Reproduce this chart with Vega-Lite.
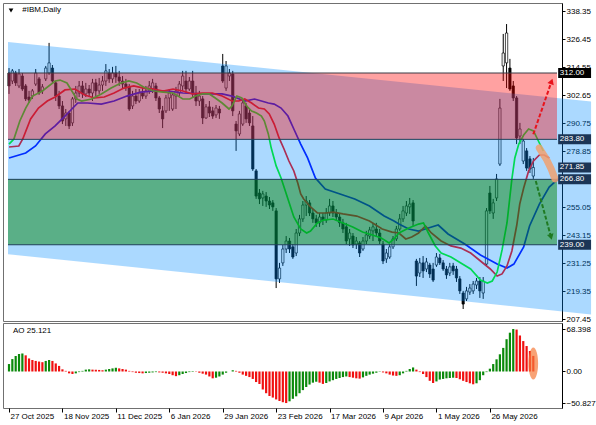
{
"$schema": "https://vega.github.io/schema/vega-lite/v6.json",
"background": "white",
"padding": {"left": 2, "top": 2, "right": 0, "bottom": 0},
"spacing": 2,
"bounds": "flush",
"config": {"view": {"stroke": "#707070", "strokeWidth": 1}, "font": "Liberation Sans", "axis": {"labelFont": "Liberation Sans", "labelFontSize": 8, "labelColor": "#000", "tickColor": "#000", "grid": false, "labelOverlap": false, "labelSeparation": 0, "labelBound": false}},
"datasets": {
"bars": [
{"i":0,"o":312.0,"h":314.1,"l":303.1,"c":306.5,"ao":12,"u":1},
{"i":1,"o":308.6,"h":313.7,"l":307.3,"c":312.9,"ao":20,"u":1},
{"i":2,"o":312.0,"h":312.9,"l":306.5,"c":307.8,"ao":25,"u":1},
{"i":3,"o":306.5,"h":313.7,"l":305.6,"c":311.6,"ao":28,"u":1},
{"i":4,"o":310.7,"h":312.0,"l":304.4,"c":305.2,"ao":29,"u":1},
{"i":5,"o":306.5,"h":307.3,"l":300.1,"c":301.0,"ao":26,"u":0},
{"i":6,"o":301.8,"h":304.4,"l":299.3,"c":300.5,"ao":21,"u":0},
{"i":7,"o":302.2,"h":305.2,"l":301.0,"c":304.4,"ao":18.5,"u":0},
{"i":8,"o":307.3,"h":313.7,"l":306.5,"c":312.0,"ao":17,"u":0},
{"i":9,"o":309.5,"h":310.3,"l":302.7,"c":303.5,"ao":16,"u":0},
{"i":10,"o":304.4,"h":307.3,"l":303.1,"c":306.1,"ao":15,"u":0},
{"i":11,"o":309.5,"h":315.0,"l":308.6,"c":314.1,"ao":17,"u":1},
{"i":12,"o":312.0,"h":324.8,"l":311.2,"c":316.3,"ao":18.5,"u":1},
{"i":13,"o":314.1,"h":315.4,"l":307.8,"c":308.6,"ao":17,"u":0},
{"i":14,"o":307.8,"h":308.6,"l":300.1,"c":302.2,"ao":13,"u":0},
{"i":15,"o":302.2,"h":304.4,"l":296.7,"c":298.0,"ao":9,"u":0},
{"i":16,"o":298.0,"h":300.1,"l":290.3,"c":291.6,"ao":3.5,"u":0},
{"i":17,"o":292.5,"h":296.7,"l":289.5,"c":295.0,"ao":1,"u":0},
{"i":18,"o":295.0,"h":295.9,"l":288.2,"c":289.5,"ao":-3,"u":0},
{"i":19,"o":290.8,"h":301.8,"l":289.5,"c":301.0,"ao":-4,"u":0},
{"i":20,"o":301.0,"h":306.5,"l":299.3,"c":303.5,"ao":-3,"u":1},
{"i":21,"o":303.5,"h":308.6,"l":301.8,"c":306.5,"ao":-1,"u":1},
{"i":22,"o":306.5,"h":308.6,"l":301.4,"c":303.1,"ao":1,"u":1},
{"i":23,"o":303.1,"h":307.8,"l":301.8,"c":305.2,"ao":3,"u":1},
{"i":24,"o":305.2,"h":306.9,"l":302.2,"c":303.5,"ao":3.5,"u":1},
{"i":25,"o":303.5,"h":309.5,"l":300.1,"c":307.8,"ao":3,"u":0},
{"i":26,"o":307.8,"h":309.5,"l":302.2,"c":304.4,"ao":2.8,"u":0},
{"i":27,"o":304.4,"h":309.9,"l":303.1,"c":306.9,"ao":2.5,"u":0},
{"i":28,"o":306.9,"h":310.7,"l":304.4,"c":308.6,"ao":2,"u":0},
{"i":29,"o":308.6,"h":315.8,"l":306.5,"c":312.9,"ao":3,"u":1},
{"i":30,"o":312.0,"h":313.7,"l":307.8,"c":309.5,"ao":4,"u":1},
{"i":31,"o":309.5,"h":314.6,"l":307.8,"c":312.0,"ao":5,"u":1},
{"i":32,"o":312.0,"h":315.0,"l":307.8,"c":310.3,"ao":6,"u":1},
{"i":33,"o":310.3,"h":312.9,"l":306.5,"c":308.6,"ao":5,"u":0},
{"i":34,"o":308.6,"h":310.7,"l":305.6,"c":307.3,"ao":4,"u":0},
{"i":35,"o":307.3,"h":309.5,"l":304.4,"c":306.1,"ao":3,"u":0},
{"i":36,"o":306.1,"h":307.3,"l":295.9,"c":296.7,"ao":1,"u":0},
{"i":37,"o":298.0,"h":304.4,"l":296.7,"c":302.2,"ao":-1,"u":0},
{"i":38,"o":302.2,"h":305.2,"l":298.8,"c":300.1,"ao":-2,"u":0},
{"i":39,"o":300.1,"h":305.2,"l":299.3,"c":303.5,"ao":-2.5,"u":0},
{"i":40,"o":303.5,"h":305.6,"l":301.0,"c":302.2,"ao":-3,"u":0},
{"i":41,"o":302.2,"h":306.5,"l":301.0,"c":304.4,"ao":-2.5,"u":1},
{"i":42,"o":304.4,"h":308.6,"l":303.1,"c":306.5,"ao":-2,"u":1},
{"i":43,"o":305.2,"h":309.5,"l":303.5,"c":307.8,"ao":-1.5,"u":1},
{"i":44,"o":306.5,"h":307.8,"l":300.1,"c":301.4,"ao":-1,"u":1},
{"i":45,"o":301.4,"h":302.2,"l":295.0,"c":296.7,"ao":-1.5,"u":0},
{"i":46,"o":295.9,"h":298.0,"l":288.6,"c":292.5,"ao":-2,"u":0},
{"i":47,"o":295.9,"h":302.7,"l":295.0,"c":301.4,"ao":-3,"u":0},
{"i":48,"o":301.4,"h":305.2,"l":295.9,"c":303.5,"ao":-4,"u":0},
{"i":49,"o":296.7,"h":303.5,"l":295.9,"c":302.7,"ao":-6,"u":0},
{"i":50,"o":302.2,"h":306.1,"l":296.7,"c":304.4,"ao":-7.5,"u":0},
{"i":51,"o":303.5,"h":308.6,"l":302.2,"c":307.3,"ao":-6,"u":1},
{"i":52,"o":306.5,"h":312.9,"l":304.4,"c":310.7,"ao":-4,"u":1},
{"i":53,"o":308.6,"h":312.9,"l":303.5,"c":305.2,"ao":-2.5,"u":1},
{"i":54,"o":305.2,"h":310.3,"l":304.4,"c":308.6,"ao":-1,"u":1},
{"i":55,"o":308.6,"h":312.9,"l":301.4,"c":303.1,"ao":0.8,"u":1},
{"i":56,"o":303.1,"h":306.5,"l":298.0,"c":300.1,"ao":-0.5,"u":0},
{"i":57,"o":300.1,"h":304.4,"l":298.0,"c":302.2,"ao":-2,"u":0},
{"i":58,"o":301.0,"h":302.2,"l":290.3,"c":292.9,"ao":-3.5,"u":0},
{"i":59,"o":292.9,"h":298.8,"l":292.5,"c":297.6,"ao":-5,"u":0},
{"i":60,"o":297.6,"h":300.1,"l":293.3,"c":295.0,"ao":-8,"u":0},
{"i":61,"o":295.9,"h":297.6,"l":292.5,"c":293.7,"ao":-11,"u":0},
{"i":62,"o":294.2,"h":298.4,"l":292.9,"c":297.1,"ao":-10,"u":1},
{"i":63,"o":296.7,"h":298.0,"l":292.5,"c":295.0,"ao":-8,"u":1},
{"i":64,"o":315.0,"h":320.1,"l":307.8,"c":308.6,"ao":-5,"u":1},
{"i":65,"o":305.6,"h":317.1,"l":304.4,"c":315.0,"ao":-2,"u":1},
{"i":66,"o":310.7,"h":313.7,"l":308.6,"c":312.0,"ao":0,"u":1},
{"i":67,"o":311.6,"h":312.9,"l":293.7,"c":295.9,"ao":2,"u":1},
{"i":68,"o":290.3,"h":291.6,"l":278.9,"c":287.4,"ao":1,"u":0},
{"i":69,"o":286.1,"h":295.9,"l":285.2,"c":294.6,"ao":-2,"u":0},
{"i":70,"o":290.3,"h":300.1,"l":289.5,"c":299.3,"ao":-5,"u":0},
{"i":71,"o":298.0,"h":299.3,"l":290.8,"c":292.5,"ao":-7,"u":0},
{"i":72,"o":295.0,"h":296.7,"l":289.5,"c":290.8,"ao":-9,"u":0},
{"i":73,"o":289.5,"h":293.7,"l":270.4,"c":271.2,"ao":-12,"u":0},
{"i":74,"o":270.4,"h":271.2,"l":258.5,"c":259.7,"ao":-17,"u":0},
{"i":75,"o":261.0,"h":262.7,"l":256.3,"c":258.5,"ao":-20,"u":0},
{"i":76,"o":258.9,"h":261.9,"l":255.5,"c":260.6,"ao":-29,"u":0},
{"i":77,"o":259.7,"h":261.4,"l":255.1,"c":257.6,"ao":-35,"u":0},
{"i":78,"o":257.6,"h":259.3,"l":254.2,"c":255.9,"ao":-39.5,"u":0},
{"i":79,"o":256.8,"h":258.0,"l":253.4,"c":255.1,"ao":-42,"u":0},
{"i":80,"o":253.4,"h":254.6,"l":220.6,"c":224.5,"ao":-45,"u":0},
{"i":81,"o":224.5,"h":231.3,"l":222.8,"c":229.1,"ao":-47.5,"u":0},
{"i":82,"o":231.3,"h":238.9,"l":230.0,"c":237.2,"ao":-49.5,"u":0},
{"i":83,"o":237.2,"h":242.7,"l":235.5,"c":240.6,"ao":-50.827,"u":0},
{"i":84,"o":240.6,"h":241.9,"l":235.5,"c":237.2,"ao":-48,"u":1},
{"i":85,"o":238.1,"h":239.3,"l":233.0,"c":233.8,"ao":-44,"u":1},
{"i":86,"o":235.5,"h":245.7,"l":234.2,"c":244.0,"ao":-40,"u":1},
{"i":87,"o":244.0,"h":251.7,"l":242.7,"c":250.0,"ao":-35,"u":1},
{"i":88,"o":250.0,"h":257.6,"l":248.7,"c":255.9,"ao":-30,"u":1},
{"i":89,"o":255.9,"h":259.7,"l":251.2,"c":257.6,"ao":-25,"u":1},
{"i":90,"o":256.8,"h":258.0,"l":251.2,"c":252.5,"ao":-21,"u":1},
{"i":91,"o":252.5,"h":254.2,"l":248.3,"c":250.0,"ao":-18,"u":1},
{"i":92,"o":250.0,"h":251.7,"l":246.6,"c":248.3,"ao":-16.5,"u":1},
{"i":93,"o":248.3,"h":252.5,"l":246.6,"c":250.8,"ao":-18,"u":0},
{"i":94,"o":250.8,"h":252.5,"l":247.4,"c":249.5,"ao":-20,"u":0},
{"i":95,"o":249.5,"h":254.6,"l":248.3,"c":252.5,"ao":-18.5,"u":1},
{"i":96,"o":252.5,"h":258.5,"l":251.2,"c":255.5,"ao":-16,"u":1},
{"i":97,"o":255.5,"h":257.6,"l":250.8,"c":252.5,"ao":-14,"u":1},
{"i":98,"o":252.5,"h":254.2,"l":249.1,"c":250.8,"ao":-12,"u":1},
{"i":99,"o":250.8,"h":252.5,"l":246.6,"c":248.3,"ao":-10.5,"u":1},
{"i":100,"o":248.3,"h":250.0,"l":244.0,"c":245.7,"ao":-9,"u":1},
{"i":101,"o":246.6,"h":248.3,"l":239.3,"c":240.6,"ao":-8,"u":1},
{"i":102,"o":241.5,"h":245.7,"l":238.5,"c":244.0,"ao":-9,"u":0},
{"i":103,"o":242.7,"h":244.0,"l":237.6,"c":238.9,"ao":-10,"u":0},
{"i":104,"o":239.3,"h":242.3,"l":237.2,"c":240.6,"ao":-11,"u":0},
{"i":105,"o":239.8,"h":240.6,"l":233.8,"c":235.5,"ao":-11.5,"u":0},
{"i":106,"o":237.2,"h":242.3,"l":236.4,"c":240.6,"ao":-9.5,"u":1},
{"i":107,"o":240.6,"h":244.9,"l":239.3,"c":243.2,"ao":-7,"u":1},
{"i":108,"o":242.7,"h":246.6,"l":241.5,"c":245.3,"ao":-5,"u":1},
{"i":109,"o":244.9,"h":248.3,"l":240.6,"c":246.6,"ao":-3.5,"u":1},
{"i":110,"o":245.7,"h":248.3,"l":242.3,"c":244.0,"ao":-2,"u":1},
{"i":111,"o":244.0,"h":245.7,"l":239.3,"c":240.6,"ao":-0.5,"u":1},
{"i":112,"o":239.3,"h":240.6,"l":230.8,"c":232.1,"ao":-1.5,"u":0},
{"i":113,"o":233.0,"h":237.2,"l":231.3,"c":235.5,"ao":-3,"u":0},
{"i":114,"o":233.8,"h":239.3,"l":233.0,"c":238.1,"ao":-5,"u":0},
{"i":115,"o":238.1,"h":242.7,"l":237.2,"c":241.5,"ao":-6.5,"u":0},
{"i":116,"o":241.5,"h":247.0,"l":240.6,"c":245.7,"ao":-7,"u":0},
{"i":117,"o":245.7,"h":252.1,"l":244.9,"c":250.0,"ao":-6,"u":1},
{"i":118,"o":250.0,"h":255.5,"l":248.7,"c":253.4,"ao":-3,"u":1},
{"i":119,"o":252.5,"h":257.6,"l":251.2,"c":255.5,"ao":1,"u":1},
{"i":120,"o":255.1,"h":258.9,"l":252.1,"c":256.3,"ao":4,"u":1},
{"i":121,"o":256.8,"h":258.0,"l":247.0,"c":249.1,"ao":6.5,"u":1},
{"i":122,"o":232.1,"h":233.0,"l":221.5,"c":225.7,"ao":3,"u":0},
{"i":123,"o":227.0,"h":233.4,"l":225.3,"c":231.3,"ao":-1,"u":0},
{"i":124,"o":231.3,"h":234.2,"l":224.9,"c":227.9,"ao":-4,"u":0},
{"i":125,"o":228.7,"h":233.4,"l":227.4,"c":231.7,"ao":-9,"u":0},
{"i":126,"o":230.4,"h":231.3,"l":224.9,"c":226.6,"ao":-15,"u":0},
{"i":127,"o":228.7,"h":231.3,"l":223.2,"c":224.0,"ao":-18.5,"u":0},
{"i":128,"o":230.4,"h":235.5,"l":229.6,"c":233.8,"ao":-16,"u":1},
{"i":129,"o":233.4,"h":235.1,"l":230.4,"c":231.3,"ao":-13,"u":1},
{"i":130,"o":231.3,"h":232.5,"l":227.9,"c":228.7,"ao":-12,"u":1},
{"i":131,"o":228.7,"h":230.0,"l":224.5,"c":226.2,"ao":-11,"u":1},
{"i":132,"o":227.0,"h":231.3,"l":225.7,"c":229.6,"ao":-10.5,"u":1},
{"i":133,"o":230.0,"h":231.3,"l":226.2,"c":227.9,"ao":-10,"u":1},
{"i":134,"o":228.7,"h":230.0,"l":223.2,"c":224.9,"ao":-10.5,"u":0},
{"i":135,"o":224.5,"h":225.7,"l":218.1,"c":219.4,"ao":-12.5,"u":0},
{"i":136,"o":218.5,"h":219.4,"l":211.7,"c":213.8,"ao":-15,"u":0},
{"i":137,"o":216.0,"h":221.1,"l":215.1,"c":219.4,"ao":-17,"u":0},
{"i":138,"o":218.9,"h":222.3,"l":217.7,"c":220.6,"ao":-19,"u":0},
{"i":139,"o":219.4,"h":223.6,"l":218.1,"c":222.3,"ao":-20.6,"u":0},
{"i":140,"o":221.9,"h":224.9,"l":220.2,"c":223.6,"ao":-19,"u":1},
{"i":141,"o":223.6,"h":225.3,"l":216.4,"c":219.4,"ao":-14,"u":1},
{"i":142,"o":218.5,"h":225.3,"l":216.0,"c":223.6,"ao":-6,"u":1},
{"i":143,"o":230.8,"h":254.6,"l":230.0,"c":253.4,"ao":-1,"u":1},
{"i":144,"o":261.0,"h":264.0,"l":252.1,"c":253.4,"ao":4.5,"u":1},
{"i":145,"o":252.5,"h":258.5,"l":250.0,"c":256.8,"ao":12,"u":1},
{"i":146,"o":258.9,"h":269.1,"l":257.6,"c":267.0,"ao":19.6,"u":1},
{"i":147,"o":273.3,"h":301.0,"l":272.5,"c":297.1,"ao":27.7,"u":1},
{"i":148,"o":315.0,"h":328.6,"l":308.6,"c":320.5,"ao":38,"u":1},
{"i":149,"o":316.3,"h":332.8,"l":305.6,"c":329.0,"ao":52,"u":1},
{"i":150,"o":314.1,"h":318.0,"l":304.4,"c":305.2,"ao":62.5,"u":1},
{"i":151,"o":306.5,"h":308.6,"l":300.1,"c":301.4,"ao":68.398,"u":1},
{"i":152,"o":301.4,"h":302.2,"l":281.8,"c":284.4,"ao":67.5,"u":0},
{"i":153,"o":285.2,"h":290.8,"l":281.8,"c":288.2,"ao":58,"u":0},
{"i":154,"o":274.6,"h":284.0,"l":273.3,"c":283.1,"ao":49,"u":0},
{"i":155,"o":278.9,"h":280.1,"l":270.4,"c":271.6,"ao":41,"u":0},
{"i":156,"o":275.5,"h":276.7,"l":269.5,"c":271.2,"ao":33,"u":0},
{"i":157,"o":268.2,"h":275.9,"l":267.0,"c":271.85,"ao":25.121,"u":0}
],
"jaw": [
{"i":0,"v":275.9},{"i":5.0,"v":278.0},{"i":7.94,"v":281.0},{"i":10.88,"v":286.1},{"i":13.82,"v":289.5},{"i":16.76,"v":293.7},{"i":18.82,"v":296.7},{"i":20.59,"v":299.25},{"i":23.53,"v":299.25},{"i":27.65,"v":298.8},{"i":31.47,"v":300.1},{"i":35.29,"v":302.2},{"i":39.41,"v":303.9},{"i":43.24,"v":304.35},{"i":47.65,"v":304.35},{"i":52.06,"v":303.5},{"i":57.94,"v":303.1},{"i":63.82,"v":303.1},{"i":66.76,"v":302.2},{"i":70.59,"v":300.1},{"i":73.53,"v":300.95},{"i":75.59,"v":300.1},{"i":77.65,"v":299.25},{"i":79.41,"v":298.8},{"i":81.47,"v":297.1},{"i":83.53,"v":293.7},{"i":85.29,"v":288.2},{"i":87.35,"v":281.8},{"i":89.41,"v":275.9},{"i":91.76,"v":267.4},{"i":94.71,"v":262.7},{"i":99.12,"v":260.6},{"i":103.53,"v":258.45},{"i":107.94,"v":255.5},{"i":112.35,"v":251.2},{"i":115.29,"v":249.1},{"i":116.76,"v":247.8},{"i":119.71,"v":245.7},{"i":122.65,"v":244.85},{"i":125.59,"v":246.1},{"i":128.53,"v":247.4},{"i":131.47,"v":243.6},{"i":136.47,"v":239.3},{"i":141.18,"v":234.65},{"i":146.18,"v":230.8},{"i":149.12,"v":229.1},{"i":151.18,"v":230.8},{"i":154.12,"v":238.05},{"i":155.88,"v":247.0},{"i":158.82,"v":256.3},{"i":161.76,"v":263.55},{"i":164.41,"v":266.95}
],
"teeth": [
{"i":0,"v":280.55},{"i":2.94,"v":280.98},{"i":4.12,"v":283.95},{"i":6.47,"v":292.45},{"i":8.82,"v":297.1},{"i":11.47,"v":300.1},{"i":13.82,"v":301.8},{"i":16.76,"v":304.8},{"i":19.71,"v":305.2},{"i":22.65,"v":302.65},{"i":25.59,"v":301.4},{"i":28.53,"v":301.8},{"i":31.47,"v":303.5},{"i":34.41,"v":305.6},{"i":37.35,"v":306.5},{"i":40.29,"v":305.6},{"i":43.24,"v":305.2},{"i":46.18,"v":304.35},{"i":49.12,"v":305.2},{"i":52.06,"v":304.35},{"i":55.0,"v":303.1},{"i":57.94,"v":303.5},{"i":60.88,"v":303.5},{"i":63.82,"v":302.2},{"i":66.76,"v":300.1},{"i":68.82,"v":300.1},{"i":70.59,"v":300.95},{"i":72.65,"v":299.25},{"i":74.71,"v":297.1},{"i":76.47,"v":296.7},{"i":77.94,"v":294.6},{"i":79.41,"v":290.3},{"i":80.88,"v":284.4},{"i":82.35,"v":279.7},{"i":83.82,"v":274.6},{"i":85.29,"v":270.35},{"i":86.47,"v":265.25},{"i":87.35,"v":260.6},{"i":88.24,"v":258.45},{"i":90.29,"v":255.05},{"i":92.35,"v":252.5},{"i":94.71,"v":252.5},{"i":97.06,"v":252.9},{"i":100.0,"v":252.1},{"i":104.12,"v":251.2},{"i":107.94,"v":249.1},{"i":111.76,"v":245.7},{"i":114.71,"v":244.4},{"i":116.76,"v":244.0},{"i":118.82,"v":241.45},{"i":120.59,"v":242.3},{"i":122.65,"v":244.0},{"i":124.71,"v":247.0},{"i":126.47,"v":244.0},{"i":129.41,"v":240.6},{"i":132.35,"v":238.5},{"i":135.29,"v":237.6},{"i":138.24,"v":235.5},{"i":141.18,"v":232.1},{"i":144.12,"v":228.7},{"i":146.18,"v":225.7},{"i":147.65,"v":226.6},{"i":149.12,"v":230.0},{"i":150.59,"v":236.35},{"i":152.06,"v":247.4},{"i":152.94,"v":256.3},{"i":154.12,"v":263.1},{"i":155.59,"v":270.35},{"i":157.06,"v":274.6},{"i":158.82,"v":277.15},{"i":160.29,"v":277.15},{"i":161.76,"v":275.9}
],
"lips": [
{"i":0,"v":281.8},{"i":1.47,"v":283.95},{"i":3.24,"v":291.6},{"i":5.0,"v":297.1},{"i":7.06,"v":302.2},{"i":10.0,"v":304.35},{"i":13.82,"v":308.6},{"i":15.29,"v":309.0},{"i":17.35,"v":307.75},{"i":18.82,"v":304.35},{"i":20.29,"v":300.95},{"i":21.76,"v":300.1},{"i":24.71,"v":300.95},{"i":27.65,"v":303.1},{"i":30.59,"v":305.6},{"i":33.53,"v":307.75},{"i":35.88,"v":308.6},{"i":38.24,"v":307.75},{"i":40.29,"v":306.05},{"i":43.24,"v":304.35},{"i":46.18,"v":303.9},{"i":49.12,"v":303.5},{"i":52.06,"v":300.95},{"i":54.12,"v":300.95},{"i":55.88,"v":302.2},{"i":57.94,"v":303.1},{"i":60.0,"v":303.1},{"i":61.76,"v":301.4},{"i":63.82,"v":299.25},{"i":65.88,"v":296.7},{"i":66.76,"v":297.95},{"i":68.24,"v":302.2},{"i":69.71,"v":301.4},{"i":71.18,"v":297.95},{"i":72.65,"v":295.85},{"i":74.12,"v":295.0},{"i":75.59,"v":293.7},{"i":76.47,"v":291.6},{"i":77.65,"v":286.1},{"i":78.53,"v":280.1},{"i":80.0,"v":272.5},{"i":81.47,"v":267.4},{"i":83.53,"v":258.45},{"i":85.29,"v":250.8},{"i":87.35,"v":245.7},{"i":89.12,"v":244.0},{"i":90.29,"v":244.85},{"i":92.35,"v":248.25},{"i":94.12,"v":249.5},{"i":97.06,"v":249.95},{"i":100.0,"v":248.25},{"i":102.94,"v":246.55},{"i":105.88,"v":244.4},{"i":108.82,"v":243.15},{"i":111.47,"v":241.9},{"i":113.82,"v":239.75},{"i":115.29,"v":241.45},{"i":116.76,"v":244.0},{"i":119.71,"v":246.1},{"i":122.65,"v":247.8},{"i":124.12,"v":248.25},{"i":125.59,"v":244.0},{"i":127.65,"v":238.5},{"i":129.41,"v":235.5},{"i":132.35,"v":233.8},{"i":135.29,"v":231.25},{"i":138.24,"v":228.7},{"i":141.18,"v":224.0},{"i":143.24,"v":222.75},{"i":144.71,"v":223.6},{"i":146.18,"v":227.4},{"i":147.65,"v":236.8},{"i":149.12,"v":248.25},{"i":150.59,"v":266.95},{"i":151.47,"v":275.9},{"i":152.65,"v":281.8},{"i":154.12,"v":285.65},{"i":155.59,"v":288.2},{"i":157.06,"v":287.35},{"i":158.53,"v":283.1},{"i":160.0,"v":278.85}
],
"chan": [{"i":-0.3,"lo":235.0,"hi":325.2},{"i":174.3,"lo":209.4,"hi":299.9}],
"boxes": [{"p":312.0,"t":"312.00"},{"p":283.8,"t":"283.80"},{"p":271.85,"t":"271.85"},{"p":266.8,"t":"266.80"},{"p":239.0,"t":"239.00"}]
},
"vconcat": [
{
"width": 559, "height": 318,
"layer": [
{"data": {"name": "bars"}, "mark": {"type": "rule", "color": "#000000", "strokeWidth": 1, "clip": true},
 "encoding": {
  "x": {"field": "i", "type": "quantitative", "scale": {"domain": [-0.3, 164.1], "nice": false, "zero": false}, "axis": null},
  "y": {"field": "l", "type": "quantitative", "scale": {"domain": [206.6, 341.75], "nice": false, "zero": false},
        "axis": {"orient": "right", "title": null, "values": [338.35, 326.45, 314.55, 302.65, 290.75, 278.85, 255.05, 243.15, 231.25, 219.35, 207.45], "tickCount": 30, "format": ".2f", "tickSize": 3, "labelPadding": 1, "domain": true, "domainColor": "#000", "labelOverlap": false, "labelFlush": false}},
  "y2": {"field": "h"}}},
{"data": {"name": "bars"}, "mark": {"type": "bar", "orient": "vertical", "size": 2.3, "stroke": "#000000", "strokeWidth": 0.7, "clip": true},
 "encoding": {
  "x": {"field": "i", "type": "quantitative"},
  "y": {"field": "o", "type": "quantitative"},
  "y2": {"field": "c"},
  "fill": {"condition": {"test": "datum.c >= datum.o", "value": "#ffffff"}, "value": "#000000"}}},
{"data": {"name": "jaw"}, "mark": {"type": "line", "color": "#0000ff", "strokeWidth": 1.7, "clip": true},
 "encoding": {"x": {"field": "i", "type": "quantitative"}, "y": {"field": "v", "type": "quantitative"}}},
{"data": {"name": "teeth"}, "mark": {"type": "line", "color": "#ff0000", "strokeWidth": 1.7, "clip": true},
 "encoding": {"x": {"field": "i", "type": "quantitative"}, "y": {"field": "v", "type": "quantitative"}}},
{"data": {"name": "lips"}, "mark": {"type": "line", "color": "#00ff00", "strokeWidth": 1.7, "clip": true},
 "encoding": {"x": {"field": "i", "type": "quantitative"}, "y": {"field": "v", "type": "quantitative"}}},
{"data": {"name": "chan"}, "mark": {"type": "area", "color": "#008cff", "opacity": 0.33, "clip": false},
 "encoding": {"x": {"field": "i", "type": "quantitative"}, "y": {"field": "lo", "type": "quantitative"}, "y2": {"field": "hi"}}},
{"data": {"values": [{"a": 312.0, "b": 283.8}]}, "mark": {"type": "rect", "color": "#ff0000", "opacity": 0.37, "clip": true},
 "encoding": {"x": {"datum": -0.3}, "x2": {"datum": 164.1}, "y": {"field": "a", "type": "quantitative"}, "y2": {"field": "b"}}},
{"data": {"values": [{"a": 266.8, "b": 239.0}]}, "mark": {"type": "rect", "color": "#008000", "opacity": 0.47, "clip": true},
 "encoding": {"x": {"datum": -0.3}, "x2": {"datum": 164.1}, "y": {"field": "a", "type": "quantitative"}, "y2": {"field": "b"}}},
{"data": {"values": [{"p": 312.0}]}, "mark": {"type": "rule", "color": "#3a3a44", "strokeWidth": 1, "clip": true},
 "encoding": {"x": {"datum": -0.3}, "x2": {"datum": 164.1}, "y": {"field": "p", "type": "quantitative"}}},
{"data": {"values": [{"p": 283.8}, {"p": 266.8}, {"p": 239.0}]}, "mark": {"type": "rule", "color": "#1f4159", "strokeWidth": 1, "clip": true},
 "encoding": {"x": {"datum": -0.3}, "x2": {"datum": 164.1}, "y": {"field": "p", "type": "quantitative"}}},
{"data": {"values": [{"i": 158.8, "v": 280.1}, {"i": 160.9, "v": 275.45}, {"i": 162.35, "v": 271.2}, {"i": 163.5, "v": 267.0}]}, "mark": {"type": "line", "color": "#f0a070", "opacity": 0.85, "strokeWidth": 7, "strokeCap": "round", "clip": false},
 "encoding": {"x": {"field": "i", "type": "quantitative"}, "y": {"field": "v", "type": "quantitative"}}},
{"data": {"values": [{"i": 157.0, "v": 285.95}, {"i": 162.47, "v": 308.4}]}, "mark": {"type": "line", "color": "#e8141c", "strokeWidth": 2, "strokeDash": [4, 2], "clip": false},
 "encoding": {"x": {"field": "i", "type": "quantitative"}, "y": {"field": "v", "type": "quantitative"}}},
{"data": {"values": [{"i": 157.74, "v": 266.1}, {"i": 162.3, "v": 242.3}]}, "mark": {"type": "line", "color": "#1f7a22", "strokeWidth": 2, "strokeDash": [4, 2], "clip": false},
 "encoding": {"x": {"field": "i", "type": "quantitative"}, "y": {"field": "v", "type": "quantitative"}}},
{"data": {"values": [{"i": 162.47, "v": 308.4}]}, "mark": {"type": "point", "shape": "triangle-up", "angle": 19.5, "size": 45, "filled": true, "color": "#e8141c", "opacity": 1, "clip": false},
 "encoding": {"x": {"field": "i", "type": "quantitative"}, "y": {"field": "v", "type": "quantitative"}}},
{"data": {"values": [{"i": 162.3, "v": 242.3}]}, "mark": {"type": "point", "shape": "triangle-up", "angle": 164.5, "size": 45, "filled": true, "color": "#1f7a22", "opacity": 1, "clip": false},
 "encoding": {"x": {"field": "i", "type": "quantitative"}, "y": {"field": "v", "type": "quantitative"}}},
{"data": {"name": "boxes"}, "mark": {"type": "rect", "yOffset": -5, "y2Offset": 5, "clip": false},
 "encoding": {"x": {"datum": 164.45}, "x2": {"datum": 174.3}, "y": {"field": "p", "type": "quantitative"}, "y2": {"field": "p"},
  "fill": {"field": "t", "type": "nominal", "scale": {"domain": ["312.00", "283.80", "271.85", "266.80", "239.00"], "range": ["#000000", "#1b3556", "#1b3556", "#1b3556", "#1b3556"]}, "legend": null}}},
{"data": {"name": "boxes"}, "mark": {"type": "text", "align": "left", "baseline": "middle", "color": "#ffffff", "font": "Liberation Sans", "fontSize": 8, "clip": false},
 "encoding": {"x": {"datum": 164.95}, "y": {"field": "p", "type": "quantitative"}, "text": {"field": "t"}}},
{"data": {"values": [{"k": 1}]}, "mark": {"type": "point", "shape": "triangle-down", "size": 22, "filled": true, "color": "#000000", "opacity": 1},
 "encoding": {"x": {"datum": 0.6}, "y": {"datum": 338.6}}},
{"data": {"values": [{"t": "#IBM,Daily"}]}, "mark": {"type": "text", "align": "left", "baseline": "middle", "color": "#000000", "font": "Liberation Sans", "fontSize": 8},
 "encoding": {"x": {"datum": 4.0}, "y": {"datum": 338.6}, "text": {"field": "t"}}}
]
},
{
"width": 559, "height": 85,
"layer": [
{"data": {"name": "bars"}, "mark": {"type": "bar", "orient": "vertical", "size": 2.2},
 "encoding": {
  "x": {"field": "i", "type": "quantitative", "scale": {"domain": [-0.3, 164.1], "nice": false, "zero": false},
        "axis": {"orient": "bottom", "title": null, "values": [0, 16, 32, 48, 64, 80, 96, 112, 128, 144], "tickCount": 30, "labelExpr": "['27 Oct 2025','18 Nov 2025','11 Dec 2025','6 Jan 2026','29 Jan 2026','23 Feb 2026','17 Mar 2026','9 Apr 2026','1 May 2026','26 May 2026'][round(datum.value/16)]", "labelAlign": "left", "labelBaseline": "top", "labelPadding": 0, "labelOffset": 1, "tickSize": 4, "domain": false, "labelOverlap": false, "labelFlush": false}},
  "y": {"field": "ao", "type": "quantitative", "scale": {"domain": [-58.8, 78.1], "nice": false, "zero": false},
        "axis": {"orient": "right", "title": null, "values": [68.398, 0, -50.827], "tickCount": 10, "labelExpr": "datum.value == 0 ? '0.00' : format(datum.value, '.3f')", "tickSize": 3, "labelPadding": 1, "domain": true, "domainColor": "#000", "labelOverlap": false, "labelFlush": false}},
  "y2": {"datum": 0},
  "color": {"condition": {"test": "datum.u == 1", "value": "#0b8a0b"}, "value": "#f01010"}}},
{"data": {"values": [{"k": 1}]}, "mark": {"type": "point", "shape": "M0,-1A0.3,1,0,1,1,0,1A0.3,1,0,1,1,0,-1Z", "size": 1024, "filled": true, "color": "#f57a3a", "opacity": 0.7},
 "encoding": {"x": {"datum": 157}, "y": {"datum": 12.9}}},
{"data": {"values": [{"t": "AO 25.121"}]}, "mark": {"type": "text", "align": "left", "baseline": "middle", "color": "#000000", "font": "Liberation Sans", "fontSize": 8},
 "encoding": {"x": {"datum": 1.2}, "y": {"datum": 65.2}, "text": {"field": "t"}}}
]
}
]
}
